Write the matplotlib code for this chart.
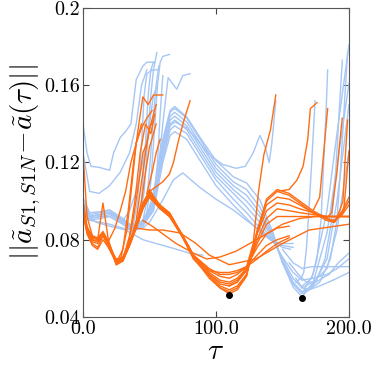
import numpy as np
import matplotlib
matplotlib.use("Agg")
import matplotlib.pyplot as plt

plt.rcParams["font.family"] = "serif"
plt.rcParams["font.serif"] = ["cmr10"]
plt.rcParams["mathtext.fontset"] = "cm"
plt.rcParams["axes.unicode_minus"] = False

nan = np.nan
BLUE = "#a6c6f5"
ORANGE = "#ff6c12"

# orange bundle, shared tau grid
ox = [0, 3, 7, 11, 15, 19, 25, 30, 35, 40, 45, 50, 58, 65, 75, 83, 95, 103, 110, 116,
      123, 131, 138, 146, 155, 163, 173, 183, 189, 195, 200]
o1 = [0.125, 0.092, 0.082, 0.080, 0.084, 0.079, 0.068, 0.069, 0.077, 0.087, 0.098, 0.106, 0.097, 0.094, 0.082, 0.071, 0.060, 0.055, 0.052, 0.054,
      0.061, 0.084, 0.101, 0.106, 0.104, 0.100, 0.095, 0.091, 0.089, 0.095, 0.102]
o2 = [0.100, 0.087, 0.081, 0.080, 0.099, 0.080, 0.067, 0.069, 0.078, 0.088, 0.099, 0.105, 0.098, 0.094, 0.082, 0.071, 0.061, 0.055, 0.053, 0.055,
      0.062, 0.085, 0.100, 0.105, 0.103, 0.099, 0.094, 0.090, 0.089, 0.094, 0.100]
o3 = [0.097, 0.086, 0.082, 0.081, 0.084, 0.079, 0.068, 0.070, 0.078, 0.087, 0.097, 0.104, 0.097, 0.093, 0.081, 0.070, 0.061, 0.056, 0.054, 0.056,
      0.062, 0.084, 0.098, 0.102, 0.101, 0.098, 0.094, 0.091, 0.090, 0.093, 0.098]
o4 = [0.095, 0.085, 0.080, 0.079, 0.083, 0.078, 0.067, 0.069, 0.077, 0.086, 0.096, 0.104, 0.096, 0.092, 0.081, 0.071, 0.062, 0.057, 0.056, 0.058,
      0.064, 0.083, 0.095, 0.099, 0.098, 0.096, 0.094, 0.092, 0.092, 0.092, 0.092]
o5 = [0.098, 0.084, 0.079, 0.078, 0.082, 0.077, 0.069, 0.070, 0.078, 0.087, 0.097, 0.103, 0.097, 0.093, 0.082, 0.071, 0.062, 0.058, 0.057, 0.059,
      0.064, 0.080, 0.091, 0.096, 0.095, 0.094, 0.093, 0.092, 0.092, 0.092, 0.092]
o6 = [0.094, 0.083, 0.077, 0.075, 0.080, 0.076, 0.068, 0.070, 0.077, 0.086, 0.096, 0.102, 0.096, 0.093, 0.082, 0.072, 0.063, 0.059, 0.058, 0.060,
      0.065, 0.078, 0.088, 0.092, 0.092, 0.092, 0.092, 0.092, 0.092, 0.092, 0.092]
o7 = [0.096, 0.085, 0.080, 0.079, 0.083, 0.078, 0.069, 0.071, 0.079, 0.087, 0.097, 0.103, 0.097, 0.093, 0.082, 0.072, 0.064, 0.061, 0.060, 0.062,
      0.066, 0.076, 0.083, 0.086, 0.087, nan, nan, nan, nan, nan, nan]
o8 = [0.093, 0.084, 0.078, 0.076, 0.082, 0.077, 0.070, 0.071, 0.079, 0.088, 0.097, 0.102, 0.096, 0.092, 0.082, 0.072, 0.065, 0.062, 0.062, 0.063,
      0.066, 0.072, 0.077, 0.080, 0.082, nan, nan, nan, nan, nan, nan]
o9 = [0.099, 0.086, 0.081, 0.080, 0.084, 0.079, 0.069, 0.070, 0.078, 0.087, 0.097, 0.104, 0.097, 0.093, 0.082, 0.072, 0.064, 0.063, 0.063, 0.064,
      0.066, 0.070, 0.074, 0.078, 0.081, nan, nan, nan, nan, nan, nan]
orange_bundle = [o1, o2, o3, o4, o5, o6, o7, o8, o9]

# orange: slow line and the ones that shoot up
o_slow_x = [45, 52, 58, 70, 83, 93, 103, 115, 128, 138, 150, 163, 175, 190, 200]
o_slow_y = [0.090, 0.087, 0.084, 0.078, 0.073, 0.070, 0.071, 0.074, 0.079, 0.083, 0.088, 0.091, 0.092, 0.092, 0.092]
o_slow2_x = [40, 50, 60, 73, 85, 95, 110, 130, 150, 170, 200]
o_slow2_y = [0.086, 0.085, 0.085, 0.0835, 0.078, 0.072, 0.067, 0.070, 0.078, 0.085, 0.088]
o_spikes = [
    ([25, 30, 34, 38, 42, 45, 49, 53, 56, 60], [0.068, 0.075, 0.095, 0.12, 0.14, 0.154, 0.150, 0.155, 0.155, 0.155]),
    ([28, 33, 37, 40, 44, 48, 52], [0.069, 0.085, 0.11, 0.13, 0.138, 0.143, 0.147]),
    ([30, 35, 39, 43, 47, 51, 54], [0.070, 0.082, 0.10, 0.125, 0.140, 0.135, 0.145]),
    ([33, 37, 41, 45, 48, 51, 55], [0.074, 0.088, 0.105, 0.125, 0.130, 0.140, 0.150]),
    ([36, 40, 44, 47, 50, 53], [0.080, 0.090, 0.110, 0.125, 0.138, 0.142]),
    ([40, 44, 47, 50, 53, 55], [0.087, 0.100, 0.115, 0.128, 0.135, 0.140]),
    ([48, 52, 55, 58], [0.104, 0.115, 0.125, 0.132]),
    ([50, 56, 60, 65, 68, 72, 76, 80.5], [0.105, 0.108, 0.110, 0.114, 0.120, 0.132, 0.142, 0.152]),
    ([19, 24, 28, 32, 36, 40, 44], [0.079, 0.086, 0.095, 0.105, 0.120, 0.130, 0.140]),
    ([110, 116, 123, 128, 132, 136, 141, 145], [0.056, 0.058, 0.066, 0.078, 0.105, 0.124, 0.137, 0.155]),
    ([146, 155, 161, 165.5, 169, 171, 176], [0.105, 0.106, 0.111, 0.118, 0.132, 0.148, 0.151]),
    ([173, 178, 181, 184], [0.095, 0.102, 0.125, 0.148]),
    ([183, 187, 191, 193, 195], [0.091, 0.094, 0.115, 0.130, 0.143]),
    ([189, 193, 195.5, 197, 199], [0.089, 0.095, 0.100, 0.120, 0.142]),
    ([192, 196, 198, 200], [0.092, 0.095, 0.110, 0.126]),
]

# blue bundle, shared tau grid
bx = [0, 5, 13, 20, 30, 37.6, 45, 53, 60, 65.5, 69, 78, 88, 100, 113, 123, 133, 143, 150, 158,
      164.6, 173, 183.5, 191, 200]
b1 = [0.102, 0.094, 0.0945, 0.0955, 0.091, 0.0866, 0.090, 0.1006, 0.132, 0.147, 0.149, 0.1436, 0.133, 0.121, 0.1126, 0.1094, 0.1006, 0.0835, 0.068, 0.0555,
      0.0504, 0.0576, 0.0835, 0.118, 0.161]
b2 = [0.100, 0.093, 0.094, 0.095, 0.090, 0.087, 0.090, 0.100, 0.130, 0.146, 0.148, 0.143, 0.132, 0.119, 0.110, 0.106, 0.097, 0.082, 0.068, 0.057,
      0.052, 0.062, 0.095, 0.135, 0.181]
b3 = [0.099, 0.092, 0.093, 0.094, 0.090, 0.086, 0.089, 0.099, 0.128, 0.144, 0.146, 0.141, 0.130, 0.117, 0.108, 0.103, 0.094, 0.081, 0.069, 0.058,
      0.053, 0.056, 0.070, 0.100, 0.150]
b4 = [0.098, 0.092, 0.093, 0.094, 0.089, 0.086, 0.089, 0.098, 0.126, 0.142, 0.144, 0.139, 0.128, 0.115, 0.106, 0.100, 0.092, 0.080, 0.070, 0.060,
      0.055, 0.058, 0.065, 0.085, 0.125]
b5 = [0.097, 0.091, 0.092, 0.093, 0.089, 0.085, 0.088, 0.097, 0.124, 0.140, 0.142, 0.137, 0.126, 0.113, 0.104, 0.097, 0.089, 0.079, 0.071, 0.063,
      0.059, 0.060, 0.062, 0.065, 0.070]
b6 = [0.096, 0.091, 0.092, 0.092, 0.088, 0.085, 0.088, 0.096, 0.122, 0.137, 0.139, 0.135, 0.124, 0.111, 0.101, 0.094, 0.086, 0.079, 0.077, 0.076,
      nan, nan, nan, nan, nan]
b7 = [0.095, 0.090, 0.091, 0.092, 0.088, 0.084, 0.087, 0.095, 0.120, 0.134, 0.136, 0.132, 0.121, 0.108, 0.098, 0.091, 0.084, 0.079, 0.078, 0.078,
      nan, nan, nan, nan, nan]
blue_bundle = [b1, b2, b3, b4, b5, b6, b7]

b_high_x = [0, 5, 13, 20, 30, 37.6, 45, 53, 60, 65.5, 69, 78, 88, 95, 105, 115, 122, 128, 133, 137, 140, 142, 145]
b_high_y = [0.097, 0.092, 0.093, 0.094, 0.089, 0.086, 0.089, 0.098, 0.125, 0.139, 0.141, 0.138, 0.130, 0.124, 0.119, 0.117, 0.118, 0.125, 0.134, 0.128, 0.120, 0.130, 0.152]
b_low_x = [0, 5, 13, 20, 30, 37.6, 45, 50, 60, 68, 75, 88, 100, 113, 123, 133, 140.6, 150, 156]
b_low_y = [0.096, 0.090, 0.089, 0.088, 0.086, 0.085, 0.086, 0.089, 0.1006, 0.111, 0.1146, 0.107, 0.101, 0.0954, 0.090, 0.085, 0.080, 0.076, 0.075]
b_lowest_x = [0, 10, 20, 32, 45, 55, 68, 80, 90]
b_lowest_y = [0.093, 0.089, 0.087, 0.085, 0.080, 0.078, 0.0755, 0.073, 0.072]
b_spikes = [
    ([0, 3, 6, 12, 20, 23, 28, 32, 36, 40, 45, 48, 54], [0.140, 0.125, 0.118, 0.1175, 0.116, 0.125, 0.133, 0.136, 0.140, 0.163, 0.170, 0.172, 0.172]),
    ([0, 5, 12, 20, 28, 35, 40, 44, 48], [0.125, 0.105, 0.104, 0.108, 0.115, 0.125, 0.140, 0.160, 0.168]),
    ([37.6, 41, 44, 46, 48, 52, 56], [0.087, 0.100, 0.130, 0.155, 0.166, 0.168, 0.168]),
    ([40, 44, 47, 49, 51, 53], [0.088, 0.100, 0.130, 0.155, 0.168, 0.172]),
    ([42, 46, 49, 51, 53, 55.5], [0.089, 0.105, 0.135, 0.155, 0.168, 0.177]),
    ([45, 48, 51, 53, 55, 57], [0.090, 0.100, 0.125, 0.145, 0.160, 0.170]),
    ([48, 51, 54, 56, 58, 60, 65], [0.094, 0.110, 0.140, 0.160, 0.172, 0.175, 0.176]),
    ([50, 53, 56, 58, 60, 64, 70.5, 75, 80.5], [0.097, 0.105, 0.115, 0.126, 0.140, 0.164, 0.158, 0.165, 0.166]),
    ([53, 56, 58, 60], [0.100, 0.120, 0.145, 0.165]),
    ([30, 35, 40, 45, 50, 53, 56], [0.090, 0.095, 0.105, 0.120, 0.140, 0.155, 0.160]),
    ([160, 164, 166, 168, 170, 172, 174.5], [0.058, 0.060, 0.063, 0.075, 0.097, 0.120, 0.152]),
    ([165, 172, 176, 179, 181, 183, 184], [0.056, 0.060, 0.070, 0.090, 0.120, 0.150, 0.168]),
    ([166, 175, 182, 187, 190, 193, 195], [0.053, 0.058, 0.070, 0.090, 0.115, 0.150, 0.173]),
    ([166, 178, 186, 191, 194, 197, 199], [0.052, 0.058, 0.070, 0.090, 0.120, 0.155, 0.177]),
    ([150, 158, 165, 172, 180, 190, 200], [0.075, 0.068, 0.065, 0.066, 0.066, 0.066, 0.066]),
    ([155, 162, 168, 175, 185, 192, 200], [0.068, 0.062, 0.058, 0.058, 0.062, 0.068, 0.073]),
    ([160, 165, 170, 178, 188, 200], [0.060, 0.055, 0.054, 0.056, 0.059, 0.063]),
]

minima_x = [110, 165]
minima_y = [0.0515, 0.0497]

fig = plt.figure(figsize=(3.74, 3.71), dpi=100)
ax = fig.add_axes([0.222, 0.146, 0.711, 0.832])

for y in blue_bundle:
    ax.plot(bx, y, color=BLUE, lw=1.0)
ax.plot(b_high_x, b_high_y, color=BLUE, lw=1.0)
ax.plot(b_low_x, b_low_y, color=BLUE, lw=1.0)
ax.plot(b_lowest_x, b_lowest_y, color=BLUE, lw=1.0)
for sx, sy in b_spikes:
    ax.plot(sx, sy, color=BLUE, lw=1.0)

for y in orange_bundle:
    ax.plot(ox, y, color=ORANGE, lw=1.0)
ax.plot(o_slow_x, o_slow_y, color=ORANGE, lw=1.0)
ax.plot(o_slow2_x, o_slow2_y, color=ORANGE, lw=1.0)
for sx, sy in o_spikes:
    ax.plot(sx, sy, color=ORANGE, lw=1.0)

ax.plot(minima_x, minima_y, "o", color="black", ms=4)

ax.set_xlim(0, 200)
ax.set_ylim(0.04, 0.2)
ax.set_xticks([0, 100, 200])
ax.set_xticklabels(["0.0", "100.0", "200.0"])
ax.set_yticks([0.04, 0.08, 0.12, 0.16, 0.2])
ax.set_yticklabels(["0.04", "0.08", "0.12", "0.16", "0.2"])
ax.tick_params(direction="in", top=True, right=True, labelsize=14.5, length=4, pad=2, color="#444444")
for s in ax.spines.values():
    s.set_color("#555555")
ax.set_xlabel(r"$\tau$", fontsize=21, labelpad=1)
ax.set_ylabel(r"$||\tilde{a}_{S1,S1N}\!-\!\tilde{a}(\tau)||$", fontsize=21, labelpad=1)

fig.savefig("out.png", dpi=100)
